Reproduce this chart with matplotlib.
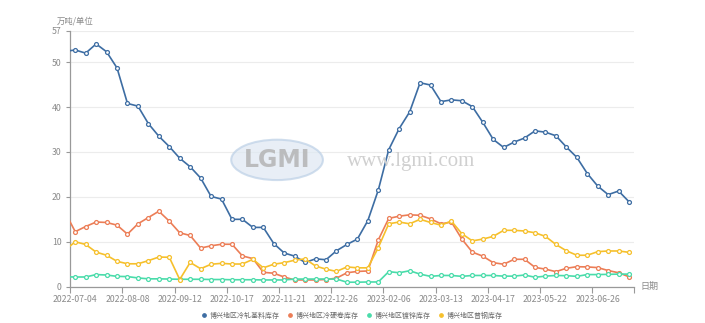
import matplotlib.pyplot as plt
from matplotlib.patches import Ellipse
import numpy as np

plt.rcParams['font.family'] = ['Noto Sans CJK SC', 'DejaVu Sans']

# weekly categories, first value is the week before 2022-07-04 (cut by the axis)
tick_labels = ['2022-07-04', '2022-08-08', '2022-09-12', '2022-10-17', '2022-11-21', '2022-12-26',
               '2023-02-06', '2023-03-13', '2023-04-17', '2023-05-22', '2023-06-26']

names = ['博兴地区冷轧基料库存', '博兴地区冷硬卷库存', '博兴地区镀锌库存', '博兴地区普钢库存']
colors = ['#3d6da3', '#ec7d56', '#49dcaa', '#f6c02c']

jiliao = [52.4, 52.7, 52.0, 54.05, 52.3, 48.7, 40.8, 40.2, 36.3, 33.5, 31.2,
          28.6, 26.7, 24.2, 20.1, 19.5, 15.0, 15.0, 13.2, 13.2, 9.6,
          7.5, 6.8, 5.4, 6.2, 6.0, 8.0, 9.4, 10.6, 14.7, 21.5,
          30.5, 35.2, 38.9, 45.4, 44.9, 41.2, 41.6, 41.4, 40.1, 36.6,
          32.8, 31.0, 32.2, 33.1, 34.7, 34.4, 33.6, 31.1, 28.8, 25.2,
          22.4, 20.5, 21.3, 18.9]
yingjuan = [16.7, 12.25, 13.4, 14.4, 14.3, 13.7, 11.7, 14.0, 15.4, 16.8, 14.6,
            12.0, 11.4, 8.6, 9.1, 9.45, 9.45, 6.85, 6.25, 3.2, 3.0,
            2.15, 1.5, 1.5, 1.5, 1.6, 1.9, 3.1, 3.4, 3.5, 10.4,
            15.2, 15.7, 16.0, 15.9, 15.1, 14.0, 14.4, 10.6, 7.7, 6.8,
            5.35, 5.0, 6.1, 6.1, 4.3, 3.9, 3.35, 4.1, 4.45, 4.4,
            4.25, 3.6, 3.1, 2.2]
duxin = [2.2, 2.16, 2.16, 2.7, 2.6, 2.3, 2.25, 1.95, 1.75, 1.75, 1.7,
         1.65, 1.65, 1.65, 1.6, 1.6, 1.55, 1.55, 1.55, 1.5, 1.5,
         1.5, 1.7, 1.7, 1.7, 1.7, 1.7, 1.0, 1.0, 1.05, 1.05,
         3.35, 3.1, 3.55, 2.8, 2.3, 2.5, 2.5, 2.3, 2.5, 2.5,
         2.5, 2.35, 2.35, 2.6, 2.1, 2.35, 2.5, 2.45, 2.3, 2.7,
         2.7, 2.75, 2.8, 2.8]
pugang = [8.1, 10.0, 9.4, 7.7, 7.0, 5.65, 5.1, 5.1, 5.8, 6.6, 6.55,
          1.6, 5.4, 4.0, 5.0, 5.2, 5.05, 5.05, 6.1, 4.2, 5.0,
          5.35, 5.9, 6.2, 4.6, 3.9, 3.4, 4.4, 4.2, 4.2, 8.7,
          14.0, 14.4, 14.0, 15.0, 14.3, 13.7, 14.6, 11.8, 10.2, 10.6,
          11.2, 12.55, 12.55, 12.4, 12.0, 11.2, 9.4, 8.0, 7.0, 7.0,
          7.8, 7.95, 7.95, 7.65]

x = np.arange(-1, len(jiliao) - 1)
n_cat = len(jiliao) - 1

fig = plt.figure(figsize=(7.05, 3.23), dpi=100)
ax = fig.add_axes([0.0993, 0.1124, 0.8004, 0.7926])

# watermark
fig.patches.append(Ellipse((0.393, 0.505), 0.13, 0.125, transform=fig.transFigure,
                           facecolor='#dfe8f3', edgecolor='#bcd0e6', lw=1.5, alpha=0.7, zorder=0))
fig.text(0.393, 0.505, 'LGMI', fontsize=17, color='#b4b4b4', ha='center', va='center',
         fontweight='bold', family='DejaVu Sans', alpha=0.85, zorder=0)
fig.text(0.583, 0.50, 'www.lgmi.com', fontsize=15, color='#d0d0d0', ha='center', va='center',
         family='Liberation Serif', zorder=0)

ax.patch.set_alpha(0)
for vals, name, c in zip([jiliao, yingjuan, duxin, pugang], names, colors):
    ax.plot(x, vals, color=c, lw=1.2, marker='o', ms=2.8, mfc='white', mec=c, mew=0.9,
            label=name, zorder=3)

ax.set_xlim(-0.5, n_cat - 0.5)
ax.set_ylim(0, 57)
ax.set_yticks([0, 10, 20, 30, 40, 50, 57])
ax.grid(axis='y', color='#ececec', lw=0.8)
ax.set_axisbelow(True)

pos = np.arange(0, 5 * len(tick_labels), 5)
ax.set_xticks(pos)
ax.set_xticklabels(tick_labels)
ax.set_xticks(list(pos - 0.5) + [n_cat - 0.5], minor=True)
ax.tick_params(axis='x', which='major', length=0, pad=6, labelsize=6.3, labelcolor='#8a8a8a')
ax.tick_params(axis='x', which='minor', length=4, color='#999999', width=0.8)
ax.tick_params(axis='y', length=3, color='#999999', width=0.8, labelsize=6.3, labelcolor='#8a8a8a', pad=3)

for s in ['top', 'right']:
    ax.spines[s].set_visible(False)
for s in ['left', 'bottom']:
    ax.spines[s].set_color('#999999')
    ax.spines[s].set_linewidth(0.9)

fig.text(0.081, 0.935, '万吨/单位', fontsize=6, color='#8a8a8a', ha='left', va='center')
fig.text(0.909, 0.112, '日期', fontsize=6.5, color='#8a8a8a', ha='left', va='center')

leg = fig.legend(loc='center', bbox_to_anchor=(0.5, 0.022), ncol=4, frameon=False,
                 fontsize=5, handlelength=0.6, handletextpad=0.5, columnspacing=1.2,
                 labelcolor='#666666')
for h, c in zip(leg.legend_handles, colors):
    h.set_linestyle('none')
    h.set_marker('o')
    h.set_markersize(2.5)
    h.set_markerfacecolor(c)
    h.set_markeredgecolor(c)

fig.savefig('out.png', dpi=100)
